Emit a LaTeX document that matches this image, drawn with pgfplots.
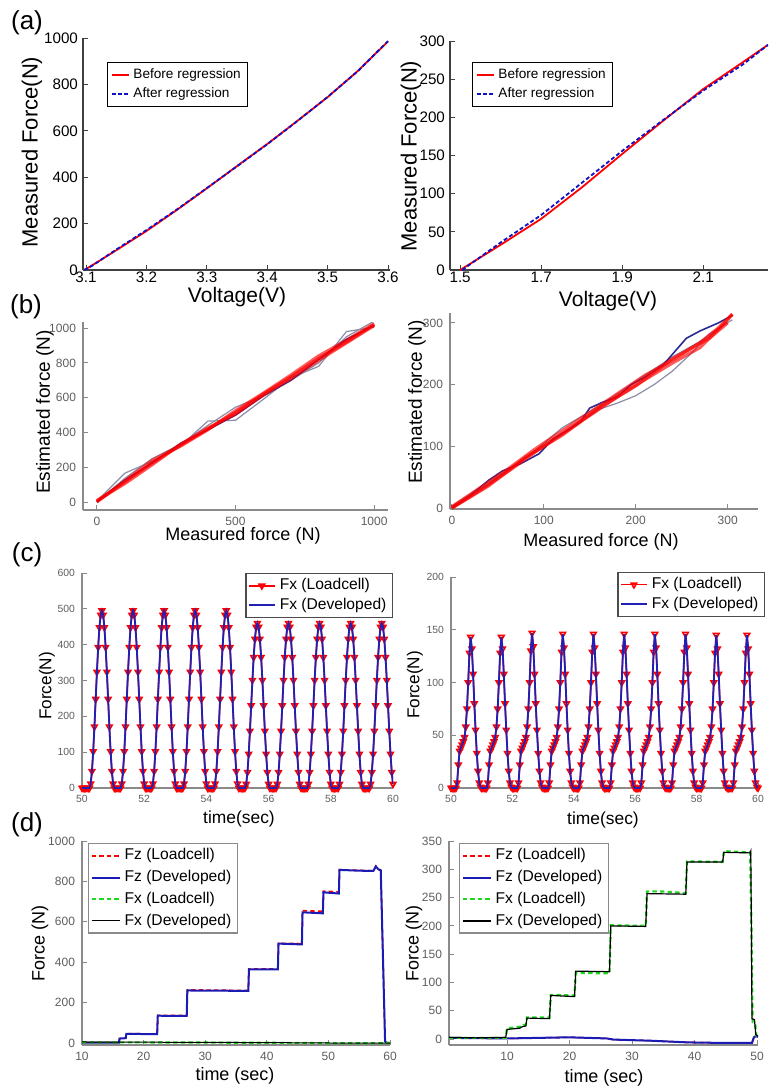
\documentclass[border=0pt]{standalone}
\usepackage{fontspec}
\setmainfont{Liberation Sans}
\usepackage{pgfplots}
\pgfplotsset{compat=1.18}
\usepackage{pgfplotstable}

\definecolor{axgrey}{HTML}{8A8A8A}
\definecolor{tkgrey}{HTML}{5E5E5E}
\definecolor{ablue}{HTML}{1010C8}
\definecolor{cblue}{HTML}{2020B4}
\definecolor{dblue}{HTML}{1A1AB4}
\definecolor{dgreen}{HTML}{1ED81E}
\definecolor{bgrey}{HTML}{8C8CA8}
\definecolor{bblue}{HTML}{2B2B90}

\pgfplotsset{
  panel/.style={scale only axis, axis lines=left, tick align=inside,
    major tick length=2.5pt, anchor=south west,
    /pgf/number format/assume math mode=true,
    /pgf/number format/1000 sep={}, legend cell align=left},
  panelA/.style={panel, axis line style={-, draw=black!75, line width=0.6pt},
    tick style={draw=black!75, line width=0.5pt},
    tick label style={font=\fontsize{7.6}{8}\selectfont},
    xticklabel shift=-2.5pt, yticklabel shift=-1pt},
  panelG/.style={panel, axis line style={-, draw=axgrey, line width=0.6pt},
    tick style={draw=axgrey, line width=0.5pt},
    tick label style={font=\fontsize{6}{7}\selectfont, text=tkgrey}},
}

% (c) left: Fx, 25 samples per second
\pgfplotstableread[row sep=\\]{
t f\\
50.00 0\\ 50.04 0\\ 50.08 0\\ 50.12 0\\ 50.16 0\\ 50.20 0\\ 50.24 0\\
50.28 12\\ 50.32 47\\ 50.36 102\\ 50.40 171\\ 50.44 248\\ 50.48 324\\ 50.52 393\\ 50.56 448\\ 50.60 483\\ 50.64 495\\ 50.68 483\\ 50.72 448\\ 50.76 393\\ 50.80 324\\ 50.84 248\\ 50.88 171\\ 50.92 102\\ 50.96 47\\ 51.00 12\\ 51.04 0\\ 51.08 0\\ 51.12 0\\ 51.16 0\\ 51.20 0\\ 51.24 0\\
51.28 12\\ 51.32 47\\ 51.36 102\\ 51.40 171\\ 51.44 248\\ 51.48 324\\ 51.52 393\\ 51.56 448\\ 51.60 483\\ 51.64 495\\ 51.68 483\\ 51.72 448\\ 51.76 393\\ 51.80 324\\ 51.84 248\\ 51.88 171\\ 51.92 102\\ 51.96 47\\ 52.00 12\\ 52.04 0\\ 52.08 0\\ 52.12 0\\ 52.16 0\\ 52.20 0\\ 52.24 0\\
52.28 12\\ 52.32 47\\ 52.36 102\\ 52.40 171\\ 52.44 248\\ 52.48 324\\ 52.52 393\\ 52.56 448\\ 52.60 483\\ 52.64 495\\ 52.68 483\\ 52.72 448\\ 52.76 393\\ 52.80 324\\ 52.84 248\\ 52.88 171\\ 52.92 102\\ 52.96 47\\ 53.00 12\\ 53.04 0\\ 53.08 0\\ 53.12 0\\ 53.16 0\\ 53.20 0\\ 53.24 0\\
53.28 12\\ 53.32 47\\ 53.36 102\\ 53.40 171\\ 53.44 248\\ 53.48 324\\ 53.52 393\\ 53.56 448\\ 53.60 483\\ 53.64 495\\ 53.68 483\\ 53.72 448\\ 53.76 393\\ 53.80 324\\ 53.84 248\\ 53.88 171\\ 53.92 102\\ 53.96 47\\ 54.00 12\\ 54.04 0\\ 54.08 0\\ 54.12 0\\ 54.16 0\\ 54.20 0\\ 54.24 0\\
54.28 12\\ 54.32 47\\ 54.36 102\\ 54.40 171\\ 54.44 248\\ 54.48 324\\ 54.52 393\\ 54.56 448\\ 54.60 483\\ 54.64 495\\ 54.68 483\\ 54.72 448\\ 54.76 393\\ 54.80 324\\ 54.84 248\\ 54.88 171\\ 54.92 102\\ 54.96 47\\ 55.00 12\\ 55.04 0\\ 55.08 0\\ 55.12 0\\ 55.16 0\\ 55.20 0\\ 55.24 0\\
55.28 11\\ 55.32 44\\ 55.36 95\\ 55.40 159\\ 55.44 230\\ 55.48 301\\ 55.52 365\\ 55.56 416\\ 55.60 449\\ 55.64 460\\ 55.68 449\\ 55.72 416\\ 55.76 365\\ 55.80 301\\ 55.84 230\\ 55.88 159\\ 55.92 95\\ 55.96 44\\ 56.00 11\\ 56.04 0\\ 56.08 0\\ 56.12 0\\ 56.16 0\\ 56.20 0\\ 56.24 0\\
56.28 11\\ 56.32 44\\ 56.36 95\\ 56.40 159\\ 56.44 230\\ 56.48 301\\ 56.52 365\\ 56.56 416\\ 56.60 449\\ 56.64 460\\ 56.68 449\\ 56.72 416\\ 56.76 365\\ 56.80 301\\ 56.84 230\\ 56.88 159\\ 56.92 95\\ 56.96 44\\ 57.00 11\\ 57.04 0\\ 57.08 0\\ 57.12 0\\ 57.16 0\\ 57.20 0\\ 57.24 0\\
57.28 11\\ 57.32 44\\ 57.36 95\\ 57.40 159\\ 57.44 230\\ 57.48 301\\ 57.52 365\\ 57.56 416\\ 57.60 449\\ 57.64 460\\ 57.68 449\\ 57.72 416\\ 57.76 365\\ 57.80 301\\ 57.84 230\\ 57.88 159\\ 57.92 95\\ 57.96 44\\ 58.00 11\\ 58.04 0\\ 58.08 0\\ 58.12 0\\ 58.16 0\\ 58.20 0\\ 58.24 0\\
58.28 11\\ 58.32 44\\ 58.36 95\\ 58.40 159\\ 58.44 230\\ 58.48 301\\ 58.52 365\\ 58.56 416\\ 58.60 449\\ 58.64 460\\ 58.68 449\\ 58.72 416\\ 58.76 365\\ 58.80 301\\ 58.84 230\\ 58.88 159\\ 58.92 95\\ 58.96 44\\ 59.00 11\\ 59.04 0\\ 59.08 0\\ 59.12 0\\ 59.16 0\\ 59.20 0\\ 59.24 0\\
59.28 11\\ 59.32 44\\ 59.36 95\\ 59.40 159\\ 59.44 230\\ 59.48 301\\ 59.52 365\\ 59.56 416\\ 59.60 449\\ 59.64 460\\ 59.68 449\\ 59.72 416\\ 59.76 365\\ 59.80 301\\ 59.84 230\\ 59.88 159\\ 59.92 95\\ 59.96 44\\ 60.00 11\\
}\cleft

% (c) right: Fx with shoulder on the rising side
\pgfplotstableread[row sep=\\]{
t f\\
50.00 0\\ 50.04 0\\ 50.08 0\\ 50.12 0\\
50.16 0\\ 50.20 5\\ 50.24 22\\ 50.28 35\\ 50.32 38\\ 50.36 41\\ 50.40 44\\ 50.44 48\\ 50.48 58\\ 50.52 75\\ 50.56 100\\ 50.60 128\\ 50.64 143\\ 50.68 132\\ 50.72 108\\ 50.76 80\\ 50.80 55\\ 50.84 33\\ 50.88 16\\ 50.92 5\\ 50.96 1\\ 51.00 0\\ 51.04 0\\ 51.08 0\\ 51.12 0\\
51.16 0\\ 51.20 5\\ 51.24 22\\ 51.28 35\\ 51.32 38\\ 51.36 41\\ 51.40 44\\ 51.44 48\\ 51.48 58\\ 51.52 75\\ 51.56 100\\ 51.60 128\\ 51.64 143\\ 51.68 132\\ 51.72 108\\ 51.76 80\\ 51.80 55\\ 51.84 33\\ 51.88 16\\ 51.92 5\\ 51.96 1\\ 52.00 0\\ 52.04 0\\ 52.08 0\\ 52.12 0\\
52.16 0\\ 52.20 5\\ 52.24 22\\ 52.28 35\\ 52.32 38\\ 52.36 41\\ 52.40 44\\ 52.44 48\\ 52.48 58\\ 52.52 75\\ 52.56 100\\ 52.60 130\\ 52.64 147\\ 52.68 134\\ 52.72 108\\ 52.76 80\\ 52.80 55\\ 52.84 33\\ 52.88 16\\ 52.92 5\\ 52.96 1\\ 53.00 0\\ 53.04 0\\ 53.08 0\\ 53.12 0\\
53.16 0\\ 53.20 5\\ 53.24 22\\ 53.28 35\\ 53.32 38\\ 53.36 41\\ 53.40 44\\ 53.44 48\\ 53.48 58\\ 53.52 75\\ 53.56 100\\ 53.60 129\\ 53.64 146\\ 53.68 133\\ 53.72 108\\ 53.76 80\\ 53.80 55\\ 53.84 33\\ 53.88 16\\ 53.92 5\\ 53.96 1\\ 54.00 0\\ 54.04 0\\ 54.08 0\\ 54.12 0\\
54.16 0\\ 54.20 5\\ 54.24 22\\ 54.28 35\\ 54.32 38\\ 54.36 41\\ 54.40 44\\ 54.44 48\\ 54.48 58\\ 54.52 75\\ 54.56 100\\ 54.60 129\\ 54.64 146\\ 54.68 133\\ 54.72 108\\ 54.76 80\\ 54.80 55\\ 54.84 33\\ 54.88 16\\ 54.92 5\\ 54.96 1\\ 55.00 0\\ 55.04 0\\ 55.08 0\\ 55.12 0\\
55.16 0\\ 55.20 5\\ 55.24 22\\ 55.28 35\\ 55.32 38\\ 55.36 41\\ 55.40 44\\ 55.44 48\\ 55.48 58\\ 55.52 75\\ 55.56 100\\ 55.60 129\\ 55.64 146\\ 55.68 133\\ 55.72 108\\ 55.76 80\\ 55.80 55\\ 55.84 33\\ 55.88 16\\ 55.92 5\\ 55.96 1\\ 56.00 0\\ 56.04 0\\ 56.08 0\\ 56.12 0\\
56.16 0\\ 56.20 5\\ 56.24 22\\ 56.28 35\\ 56.32 38\\ 56.36 41\\ 56.40 44\\ 56.44 48\\ 56.48 58\\ 56.52 75\\ 56.56 100\\ 56.60 129\\ 56.64 146\\ 56.68 133\\ 56.72 108\\ 56.76 80\\ 56.80 55\\ 56.84 33\\ 56.88 16\\ 56.92 5\\ 56.96 1\\ 57.00 0\\ 57.04 0\\ 57.08 0\\ 57.12 0\\
57.16 0\\ 57.20 5\\ 57.24 22\\ 57.28 35\\ 57.32 38\\ 57.36 41\\ 57.40 44\\ 57.44 48\\ 57.48 58\\ 57.52 75\\ 57.56 100\\ 57.60 129\\ 57.64 146\\ 57.68 133\\ 57.72 108\\ 57.76 80\\ 57.80 55\\ 57.84 33\\ 57.88 16\\ 57.92 5\\ 57.96 1\\ 58.00 0\\ 58.04 0\\ 58.08 0\\ 58.12 0\\
58.16 0\\ 58.20 5\\ 58.24 22\\ 58.28 35\\ 58.32 38\\ 58.36 41\\ 58.40 44\\ 58.44 48\\ 58.48 58\\ 58.52 75\\ 58.56 100\\ 58.60 128\\ 58.64 145\\ 58.68 132\\ 58.72 108\\ 58.76 80\\ 58.80 55\\ 58.84 33\\ 58.88 16\\ 58.92 5\\ 58.96 1\\ 59.00 0\\ 59.04 0\\ 59.08 0\\ 59.12 0\\
59.16 0\\ 59.20 5\\ 59.24 22\\ 59.28 35\\ 59.32 38\\ 59.36 41\\ 59.40 44\\ 59.44 48\\ 59.48 58\\ 59.52 75\\ 59.56 100\\ 59.60 128\\ 59.64 145\\ 59.68 132\\ 59.72 108\\ 59.76 80\\ 59.80 55\\ 59.84 33\\ 59.88 16\\ 59.92 5\\ 59.96 1\\ 60.00 0\\
}\cright

\begin{document}
\begin{tikzpicture}
\path[use as bounding box] (0pt,0pt) rectangle (389.5pt,-546pt);

% ---------- (a) left ----------
\begin{axis}[panelA, at={(41.5pt,-135pt)}, width=153.5pt, height=116pt,
  xmin=3.095, xmax=3.6033, ymin=0, ymax=1000,
  xtick={3.1,3.2,3.3,3.4,3.5,3.6}, ytick={0,200,400,600,800,1000},
  legend style={at={(0.078,0.897)}, anchor=north west, draw=black, line width=0.7pt,
    font=\fontsize{6.8}{7.5}\selectfont, inner xsep=1.5pt, inner ysep=1pt, row sep=-1pt},
  legend image code/.code={\draw[#1] (0pt,0pt) -- (8.5pt,0pt);}]
\addplot[red, line width=0.9pt] coordinates {(3.097,0) (3.11,20) (3.15,85) (3.2,168) (3.25,258) (3.3,352) (3.35,448) (3.4,543) (3.45,643) (3.5,745) (3.55,858) (3.6,985)};
\addlegendentry{Before regression}
\addplot[ablue, line width=0.9pt, dash pattern=on 2pt off 1.2pt] coordinates {(3.097,0) (3.11,18) (3.15,88) (3.2,172) (3.25,260) (3.3,353) (3.35,447) (3.4,542) (3.45,642) (3.5,746) (3.55,857) (3.6,987)};
\addlegendentry{After regression}
\end{axis}

% ---------- (a) right ----------
\begin{axis}[panelA, at={(225pt,-135pt)}, width=159pt, height=114.5pt,
  xmin=1.475, xmax=2.26, ymin=0, ymax=300,
  xtick={1.5,1.7,1.9,2.1}, ytick={0,50,100,150,200,250,300},
  legend style={at={(0.069,0.908)}, anchor=north west, draw=black, line width=0.7pt,
    font=\fontsize{6.8}{7.5}\selectfont, inner xsep=1.5pt, inner ysep=1pt, row sep=-1pt},
  legend image code/.code={\draw[#1] (0pt,0pt) -- (8.5pt,0pt);}]
\addplot[red, line width=0.9pt] coordinates {(1.5,0) (1.6,33) (1.7,67) (1.8,108) (1.9,152) (2.0,195) (2.1,237) (2.2,273) (2.26,295)};
\addlegendentry{Before regression}
\addplot[ablue, line width=0.9pt, dash pattern=on 2pt off 1.2pt] coordinates {(1.505,0) (1.6,36) (1.7,72) (1.8,114) (1.9,156) (2.0,196) (2.1,235) (2.2,270) (2.26,295)};
\addlegendentry{After regression}
\end{axis}

% ---------- (b) left ----------
\begin{axis}[panelG, at={(41.5pt,-255pt)}, width=152.5pt, height=94pt,
  xmin=-50, xmax=1050, ymin=-46, ymax=1035,
  xtick={0,500,1000}, ytick={0,200,400,600,800,1000}]
\addplot[bgrey, line width=0.6pt] coordinates {(0,5) (100,165) (200,235) (300,320) (400,465) (500,470) (600,590) (700,715) (800,780) (900,980) (1000,1005)};
\addplot[bgrey, line width=0.6pt] coordinates {(0,0) (100,135) (200,250) (300,330) (400,440) (500,545) (600,610) (700,700) (800,800) (900,950) (1000,1040)};
\addplot[bblue, line width=0.8pt] coordinates {(0,0) (100,125) (200,225) (300,335) (400,415) (500,500) (600,610) (700,700) (800,820) (900,935) (1000,1015)};
\addplot[red, line width=1.6pt, opacity=0.65] coordinates {(0,5) (100,115) (200,225) (300,325) (400,420) (500,515) (600,620) (700,720) (800,825) (900,920) (1000,1020)};
\addplot[red, line width=1.6pt, opacity=0.65] coordinates {(0,0) (100,120) (200,240) (300,320) (400,415) (500,525) (600,625) (700,730) (800,840) (900,930) (1000,1025)};
\addplot[red, line width=1.6pt, opacity=0.65] coordinates {(0,8) (100,105) (200,215) (300,330) (400,425) (500,505) (600,615) (700,710) (800,815) (900,915) (1000,1015)};
\end{axis}

% ---------- (b) right ----------
\begin{axis}[panelG, at={(225pt,-254.5pt)}, width=154pt, height=98pt,
  xmin=-2, xmax=333, ymin=-1.6, ymax=316,
  xtick={0,100,200,300}, ytick={0,100,200,300}]
\addplot[bgrey, line width=0.6pt] coordinates {(0,3) (50,52) (100,100) (140,140) (160,160) (180,170) (200,182) (220,200) (240,222) (260,250) (280,282) (305,305)};
\addplot[bgrey, line width=0.6pt] coordinates {(0,0) (40,38) (80,80) (120,130) (160,165) (200,205) (240,245) (270,270) (300,300)};
\addplot[bblue, line width=0.8pt] coordinates {(0,0) (20,20) (40,45) (55,60) (75,72) (95,88) (110,112) (125,125) (140,140) (150,162) (165,172) (180,180) (195,200) (210,212) (230,232) (255,275) (270,287) (290,300) (305,312)};
\addplot[red, line width=1.6pt, opacity=0.65] coordinates {(0,0) (30,28) (60,58) (90,90) (120,120) (150,150) (180,180) (210,208) (240,235) (270,260) (300,305) (305,314)};
\addplot[red, line width=1.6pt, opacity=0.65] coordinates {(0,2) (30,32) (60,62) (90,95) (120,125) (150,155) (180,185) (210,215) (240,240) (270,268) (290,292) (305,314)};
\addplot[red, line width=1.6pt, opacity=0.65] coordinates {(0,0) (40,36) (80,82) (120,118) (160,162) (200,198) (240,242) (280,275) (300,300)};
\end{axis}

% ---------- (c) left ----------
\begin{axis}[panelG, at={(41pt,-394pt)}, width=155.5pt, height=107.5pt,
  xmin=50, xmax=60, ymin=0, ymax=600, clip mode=individual,
  xtick={50,52,...,60}, ytick={0,100,...,600},
  tick label style={font=\fontsize{5.2}{6}\selectfont, text=tkgrey},
  legend style={at={(1.0,1.0)}, anchor=north east, draw=black!70, line width=0.6pt,
    font=\fontsize{7.8}{9}\selectfont, inner xsep=1pt, inner ysep=0.5pt, row sep=-1.5pt},
  legend image code/.code={\draw[mark repeat=2, mark phase=2, #1] plot coordinates {(0pt,0pt) (6.5pt,0pt) (13pt,0pt)};}]
\addplot[red, line width=0.8pt, mark=triangle, mark size=1.6pt, mark options={rotate=180, solid}] table[x=t, y=f] {\cleft};
\addlegendentry{Fx (Loadcell)}
\addplot[cblue, line width=0.9pt] table[x=t, y=f] {\cleft};
\addlegendentry{Fx (Developed)}
\end{axis}

% ---------- (c) right ----------
\begin{axis}[panelG, at={(225.5pt,-394pt)}, width=153.5pt, height=105.5pt,
  xmin=50, xmax=60, ymin=0, ymax=200, clip mode=individual,
  xtick={50,52,...,60}, ytick={0,50,...,200},
  tick label style={font=\fontsize{5.2}{6}\selectfont, text=tkgrey},
  legend style={at={(1.023,1.024)}, anchor=north east, draw=black!70, line width=0.6pt,
    font=\fontsize{7.8}{9}\selectfont, inner xsep=1pt, inner ysep=0.5pt, row sep=-1.5pt},
  legend image code/.code={\draw[mark repeat=2, mark phase=2, #1] plot coordinates {(0pt,0pt) (6.5pt,0pt) (13pt,0pt)};}]
\addplot[red, line width=0.8pt, mark=triangle, mark size=1.6pt, mark options={rotate=180, solid}] table[x=t, y=f] {\cright};
\addlegendentry{Fx (Loadcell)}
\addplot[cblue, line width=0.9pt] table[x=t, y=f] {\cright};
\addlegendentry{Fx (Developed)}
\end{axis}

% ---------- (d) left ----------
\begin{axis}[panelG, at={(41pt,-522.5pt)}, width=154pt, height=102pt,
  xmin=10, xmax=60, ymin=-10, ymax=1000,
  xtick={10,20,...,60}, ytick={0,200,...,1000},
  legend style={at={(0.019,0.99)}, anchor=north west, draw=axgrey, line width=0.6pt,
    font=\fontsize{7.8}{9}\selectfont, inner xsep=1pt, inner ysep=0.5pt, row sep=-0.3pt},
  legend image code/.code={\draw[#1] (0pt,0pt) -- (14pt,0pt);}]
\addplot[red, line width=0.8pt, dash pattern=on 2.2pt off 1.6pt] coordinates {(10,2) (16.0,2) (16.1,22) (17.1,24) (17.2,46) (22.2,45) (22.3,137) (27.0,136) (27.1,263) (37.0,260) (37.1,367) (41.8,366) (41.9,494) (45.7,492) (45.8,655) (49.1,652) (49.2,752) (51.7,748) (51.8,858) (57.3,853) (57.7,876) (58.1,860) (58.5,855) (59.2,10) (59.5,0) (60,0)};
\addlegendentry{Fz (Loadcell)}
\addplot[dblue, line width=1pt] coordinates {(10,2) (16.0,2) (16.1,22) (17.1,24) (17.2,45) (22.2,44) (22.3,135) (27.0,134) (27.1,260) (37.0,258) (37.1,365) (41.8,364) (41.9,492) (45.7,488) (45.8,647) (49.1,642) (49.2,746) (51.7,740) (51.8,857) (55.0,853) (57.3,852) (57.7,874) (58.1,860) (58.5,855) (59.2,8) (59.5,0) (60,0)};
\addlegendentry{Fz (Developed)}
\addplot[dgreen, line width=1.1pt, dash pattern=on 2.2pt off 1.6pt] coordinates {(10,3) (20,3) (30,2) (40,1) (50,-1) (58,-1) (60,0)};
\addlegendentry{Fx (Loadcell)}
\addplot[black, line width=0.5pt] coordinates {(10,5) (20,4) (30,3) (40,2) (50,0) (58,-1) (60,-1)};
\addlegendentry{Fx (Developed)}
\end{axis}

% ---------- (d) right ----------
\begin{axis}[panelG, at={(224.5pt,-522.5pt)}, width=154.5pt, height=102pt,
  xmin=0.72, xmax=50.16, ymin=-10.6, ymax=350,
  xtick={10,20,...,50}, ytick={0,50,...,350},
  legend style={at={(0.032,0.99)}, anchor=north west, draw=axgrey, line width=0.6pt,
    font=\fontsize{7.8}{9}\selectfont, inner xsep=1pt, inner ysep=0.5pt, row sep=-0.3pt},
  legend image code/.code={\draw[#1] (0pt,0pt) -- (14pt,0pt);}]
\addplot[red, line width=0.8pt, dash pattern=on 2.2pt off 1.6pt] coordinates {(0.72,2) (10,1) (20,3) (26,1) (27,-1) (33,-3) (39,-6) (45,-7) (49.2,-7) (49.5,3) (49.8,5) (50.16,4)};
\addlegendentry{Fz (Loadcell)}
\addplot[dblue, line width=1pt] coordinates {(0.72,2) (10,1) (20,3) (26,1) (27,-1) (33,-3) (39,-6) (45,-7) (49.2,-7) (49.5,3) (49.8,5) (50.16,4)};
\addlegendentry{Fz (Developed)}
\addplot[dgreen, line width=1.1pt, dash pattern=on 2.2pt off 1.6pt] coordinates {(0.72,2) (9.8,2) (10.0,19) (12.4,22) (12.6,25) (13.0,25) (13.2,38) (16.8,38) (17.0,78) (20.8,77) (21.0,117) (26.4,116) (26.6,201) (32.2,200) (32.4,261) (34.5,261) (38.6,258) (38.8,314) (44.5,313) (44.7,332) (48.9,330) (49.1,200) (49.3,30) (49.7,28) (49.9,5) (50.1,3)};
\addlegendentry{Fx (Loadcell)}
\addplot[black, line width=0.6pt] coordinates {(0.72,3) (5,2) (9.8,3) (10.0,17) (12.0,19) (12.5,22) (13.0,23) (13.2,37) (16.8,36) (17.0,77) (20.8,75) (21.0,120) (26.4,119) (26.6,200) (32.2,199) (32.4,257) (38.6,256) (38.8,313) (44.5,313) (44.7,330) (48.9,329) (49.0,332) (49.1,200) (49.2,36) (49.6,34) (49.8,8) (50.1,5)};
\addlegendentry{Fx (Developed)}
\end{axis}

% labels, placed in reference pixel coordinates
\begin{scope}[x=0.5pt, y=-0.5pt]
\node[font=\fontsize{13}{14}\selectfont] at (27,23) {(a)};
\node[font=\fontsize{13}{14}\selectfont] at (26,307) {(b)};
\node[font=\fontsize{13}{14}\selectfont] at (27,555) {(c)};
\node[font=\fontsize{13}{14}\selectfont] at (27,825) {(d)};
\node[rotate=90, font=\fontsize{11}{12}\selectfont] at (32,152) {Measured Force(N)};
\node[font=\fontsize{10.5}{12}\selectfont] at (237,297) {Voltage(V)};
\node[rotate=90, font=\fontsize{11}{12}\selectfont] at (411,156) {Measured Force(N)};
\node[font=\fontsize{10.5}{12}\selectfont] at (608,301) {Voltage(V)};
\node[rotate=90, font=\fontsize{9.5}{11}\selectfont] at (45,412) {Estimated force (N)};
\node[font=\fontsize{9}{11}\selectfont] at (243,536) {Measured force (N)};
\node[rotate=90, font=\fontsize{9.5}{11}\selectfont] at (417,402) {Estimated force (N)};
\node[font=\fontsize{9}{11}\selectfont] at (601,542) {Measured force (N)};
\node[rotate=90, font=\fontsize{8.6}{10}\selectfont] at (47,686) {Force(N)};
\node[font=\fontsize{8.7}{10}\selectfont] at (239,819) {time(sec)};
\node[rotate=90, font=\fontsize{8.6}{10}\selectfont] at (415,685) {Force(N)};
\node[font=\fontsize{8.7}{10}\selectfont] at (603,820) {time(sec)};
\node[rotate=90, font=\fontsize{9}{10}\selectfont] at (40,943) {Force (N)};
\node[font=\fontsize{9}{10}\selectfont] at (235,1076) {time (sec)};
\node[rotate=90, font=\fontsize{9}{10}\selectfont] at (414,943) {Force (N)};
\node[font=\fontsize{9}{10}\selectfont] at (604,1078) {time (sec)};
\end{scope}
\end{tikzpicture}
\end{document}
